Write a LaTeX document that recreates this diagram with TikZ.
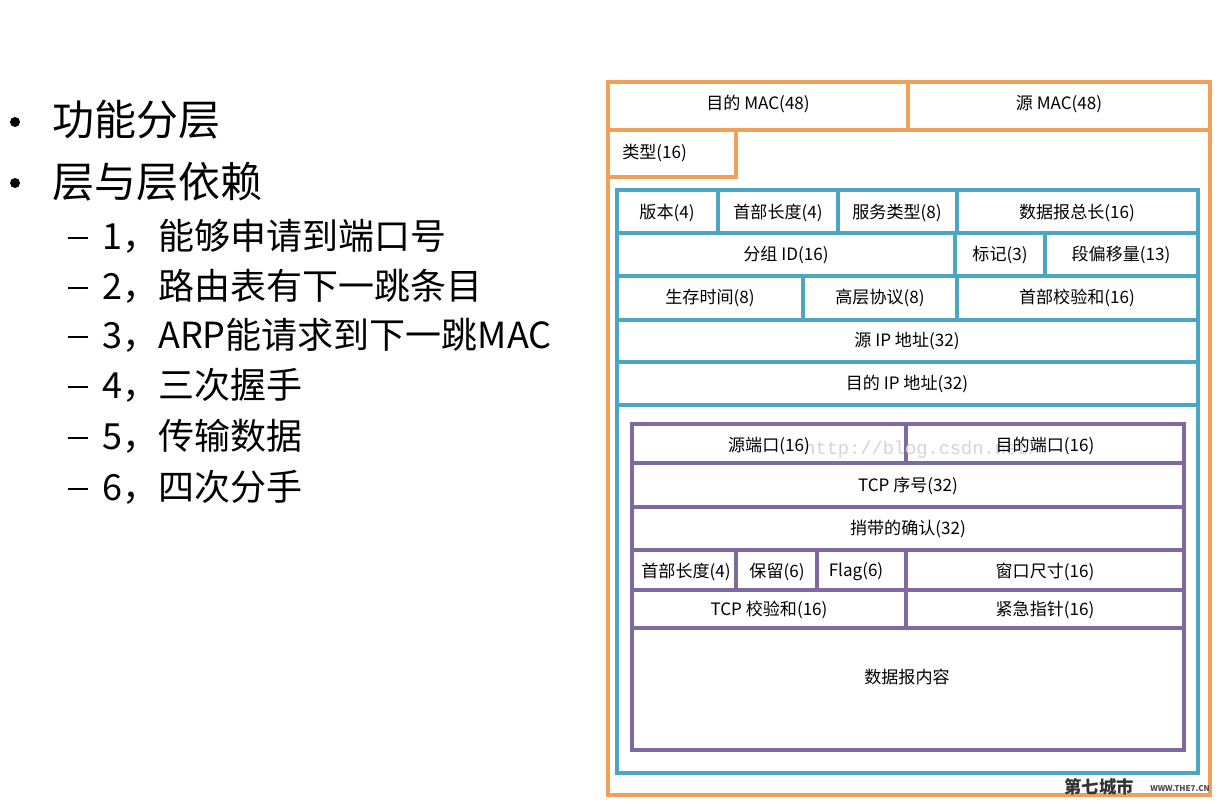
\documentclass[tikz,border=0pt]{standalone}
\usepackage{fontspec}
\setmainfont{Noto Sans CJK SC}
\newfontfamily\wmfont{Liberation Mono}
\definecolor{orangec}{RGB}{240,160,88}
\definecolor{bluec}{RGB}{75,165,195}
\definecolor{purplec}{RGB}{128,104,160}
\definecolor{wmgray}{RGB}{212,212,212}
\begin{document}
\begin{tikzpicture}[x=0.75pt,y=-0.75pt,
  ob/.style={draw=orangec,line width=2.8pt},
  bb/.style={draw=bluec,line width=2.8pt},
  pb/.style={draw=purplec,line width=2.8pt},
  lbl/.style={inner sep=0pt,font=\fontsize{12.8}{14}\selectfont},
  big/.style={inner sep=0pt,anchor=west,font=\fontsize{31.5}{36}\selectfont},
  dot/.style={circle,fill=black,inner sep=0pt,minimum size=7.5pt},
  dsh/.style={draw=black,line width=1.8pt},
  sub/.style={inner sep=0pt,anchor=west,font=\fontsize{27}{30}\selectfont},
  wm/.style={inner sep=0pt,text=wmgray,font=\wmfont\fontsize{14}{16}\selectfont}]
\useasboundingbox[fill=white] (0,0) rectangle (1227,803);

% ---------- left list ----------
\node[dot] (b1) at (15,122) {};
\node[big] (t1) at (52,120) {功能分层};
\node[dot] (b2) at (15,183) {};
\node[big] (t2) at (52,182) {层与层依赖};
\node[sub] (s1) at (102,236) {1，能够申请到端口号};
\node[sub] (s2) at (102,286) {2，路由表有下一跳条目};
\node[sub] (s3) at (102,335) {3，ARP能请求到下一跳MAC};
\node[sub] (s4) at (102,385) {4，三次握手};
\node[sub] (s5) at (102,436) {5，传输数据};
\node[sub] (s6) at (102,487) {6，四次分手};
\foreach \n in {s1,s2,s3,s4,s5,s6}
  \draw[dsh] ([xshift=-25.5pt,yshift=-1.5pt]\n.west) -- ([xshift=-10.5pt,yshift=-1.5pt]\n.west);

% ---------- Ethernet frame (orange) ----------
\draw[ob] (608,82) rectangle (1210,795);
\draw[ob] (608,130) -- (1210,130);
\draw[ob] (908,82) -- (908,130);
\draw[ob] (608,130) rectangle (736,177);
\node[lbl] (dmac) at (758,104) {目的 MAC(48)};
\node[lbl] (smac) at (1059,104) {源 MAC(48)};
\node[lbl,anchor=west] (type) at (622,153) {类型(16)};

% ---------- IP header (blue) ----------
\draw[bb] (617,190) rectangle (1198,773);
\foreach \y in {233,276,320,362,405} \draw[bb] (617,\y) -- (1198,\y);
\foreach \x in {718,838,957} \draw[bb] (\x,190) -- (\x,233);
\foreach \x in {955,1045} \draw[bb] (\x,233) -- (\x,276);
\foreach \x in {803,957} \draw[bb] (\x,276) -- (\x,320);
\node[lbl] (ver) at (667,213) {版本(4)};
\node[lbl] (ihl) at (778,213) {首部长度(4)};
\node[lbl] (tos) at (897,213) {服务类型(8)};
\node[lbl] (tlen) at (1077,213) {数据报总长(16)};
\node[lbl] (id) at (786,255) {分组 ID(16)};
\node[lbl] (flg) at (1000,255) {标记(3)};
\node[lbl] (frag) at (1121,255) {段偏移量(13)};
\node[lbl] (ttl) at (710,298) {生存时间(8)};
\node[lbl] (proto) at (880,298) {高层协议(8)};
\node[lbl] (hcs) at (1077,298) {首部校验和(16)};
\node[lbl] (sip) at (907,341) {源 IP 地址(32)};
\node[lbl] (dip) at (907,384) {目的 IP 地址(32)};

% ---------- TCP segment (purple) ----------
\draw[pb] (632,424) rectangle (1184,750);
\foreach \y in {463,507,550,590,628} \draw[pb] (632,\y) -- (1184,\y);
\draw[pb] (906,424) -- (906,463);
\foreach \x in {736,817,906} \draw[pb] (\x,550) -- (\x,590);
\draw[pb] (906,590) -- (906,628);
\node[wm] (csdn) at (922,450) {http://blog.csdn.net/};
\node[lbl] (sport) at (769,446) {源端口(16)};
\node[lbl] (dport) at (1045,446) {目的端口(16)};
\node[lbl] (seq) at (908,486) {TCP 序号(32)};
\node[lbl] (ack) at (908,529) {捎带的确认(32)};
\node[lbl] (off) at (686,572) {首部长度(4)};
\node[lbl] (rsv) at (777,572) {保留(6)};
\node[lbl] (flag) at (856,572) {Flag(6)};
\node[lbl] (win) at (1045,572) {窗口尺寸(16)};
\node[lbl] (tcs) at (769,610) {TCP 校验和(16)};
\node[lbl] (urg) at (1045,610) {紧急指针(16)};
\node[lbl] (data) at (907,677) {数据报内容};

% ---------- watermark ----------
\node[inner sep=0pt,font=\fontsize{13}{14}\selectfont\bfseries,text=black!80] (wm1) at (1099,787) {第七城市};
\node[inner sep=0pt,font=\fontsize{6}{7}\selectfont\bfseries,text=black!70] (wm2) at (1180,789) {WWW.THE7.CN};
\end{tikzpicture}
\end{document}
